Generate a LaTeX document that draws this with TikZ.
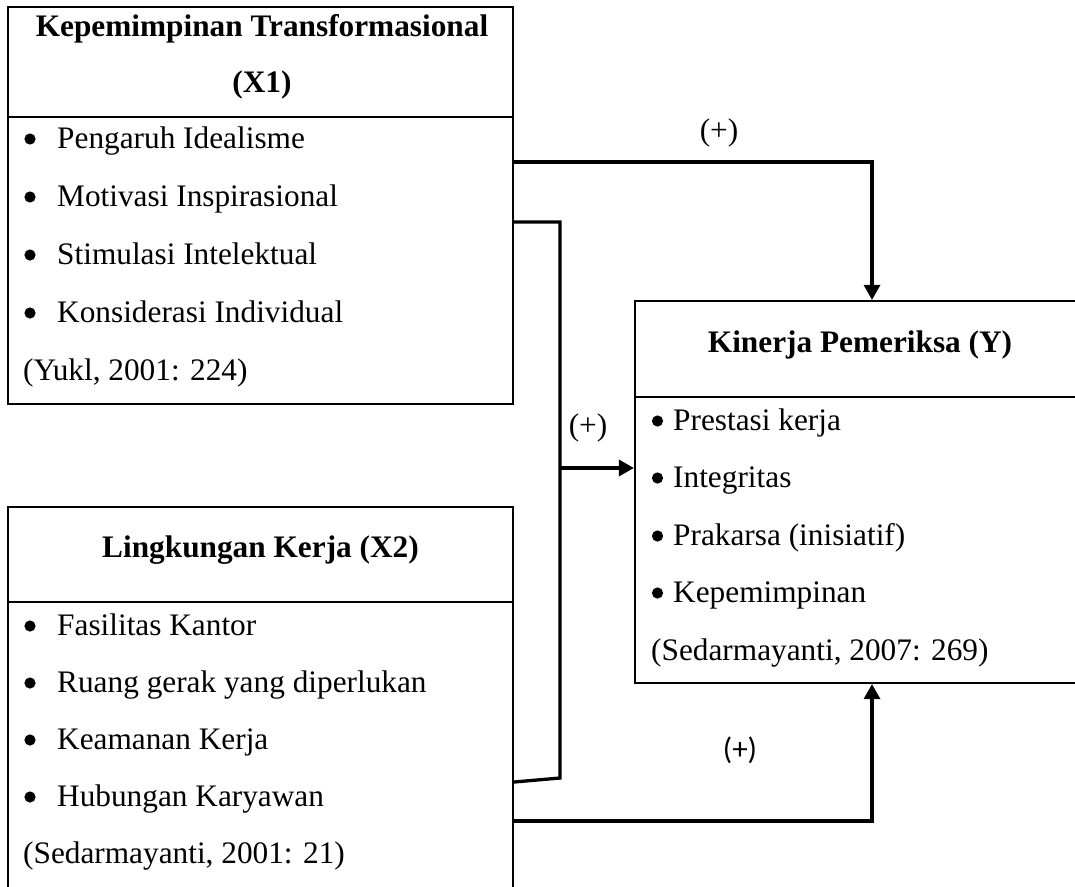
\documentclass[tikz,border=0pt]{standalone}
\usepackage{fontspec}
\setmainfont{Liberation Serif}
\newfontfamily\plussans{Carlito}
\usetikzlibrary{arrows.meta}
\begin{document}
\begin{tikzpicture}[x=1pt,y=-1pt,
  boxline/.style={line width=2.2pt},
  conn/.style={line width=3.3pt},
  arr/.style={conn,-{Triangle[length=15pt,width=16pt]}},
  txt/.style={inner sep=0pt,anchor=base west,font=\fontsize{31.3}{37}\selectfont},
  ttl/.style={inner sep=0pt,anchor=base,font=\fontsize{31.3}{37}\selectfont\bfseries},
  lbl/.style={inner sep=0pt,font=\fontsize{31.3}{37}\selectfont},
  lblsans/.style={inner sep=0pt,font=\fontsize{31}{36}\selectfont\plussans},
  bul/.style={fill=black}]
\useasboundingbox (0,0) rectangle (1075,886);
\clip (0,0) rectangle (1075,886);
% boxes
\node[boxline,draw,rectangle,inner sep=0pt,minimum width=505pt,minimum height=397pt] (X1) at (260.5,205.5) {};
\node[boxline,draw,rectangle,inner sep=0pt,minimum width=505pt,minimum height=400pt] (X2) at (260.5,707) {};
\node[boxline,draw,rectangle,inner sep=0pt,minimum width=450pt,minimum height=382pt] (Y) at (860,492) {};
\draw[boxline] (8,117) -- (513,117);
\draw[boxline] (8,602) -- (513,602);
\draw[boxline] (635,397) -- (1085,397);
% X1 text
\node[ttl] (x1t1) at (262,36) {Kepemimpinan Transformasional};
\node[ttl] (x1t2) at (262,92) {(X1)};
\node[txt] (x1a) at (57,148) {Pengaruh Idealisme};
\node[txt] (x1b) at (57,206) {Motivasi Inspirasional};
\node[txt] (x1c) at (57,264) {Stimulasi Intelektual};
\node[txt] (x1d) at (57,322) {Konsiderasi Individual};
\node[txt] (x1e) at (23,380) {(Yukl, 2001: 224)};
\foreach \yy in {148,206,264,322} \fill[bul] (30,\yy-9) circle (5.6);
% X2 text
\node[ttl] (x2t) at (260.5,557) {Lingkungan Kerja (X2)};
\node[txt] (x2a) at (57,635) {Fasilitas Kantor};
\node[txt] (x2b) at (57,692) {Ruang gerak yang diperlukan};
\node[txt] (x2c) at (57,749) {Keamanan Kerja};
\node[txt] (x2d) at (57,806) {Hubungan Karyawan};
\node[txt] (x2e) at (23,863) {(Sedarmayanti, 2001: 21)};
\foreach \yy in {635,692,749,806} \fill[bul] (30,\yy-9) circle (5.6);
% Y text
\node[ttl] (yt) at (860,352) {Kinerja Pemeriksa (Y)};
\node[txt] (ya) at (673,430) {Prestasi kerja};
\node[txt] (yb) at (673,487) {Integritas};
\node[txt] (yc) at (673,545) {Prakarsa (inisiatif)};
\node[txt] (yd) at (673,602) {Kepemimpinan};
\node[txt] (ye) at (651,660) {(Sedarmayanti, 2007: 269)};
\foreach \yy in {430,487,545,602} \fill[bul] (657.5,\yy-9) circle (5.6);
% connector coordinates
\coordinate (a1) at (X1.east |- 0,162);
\coordinate (a2) at (872,162);
\coordinate (a3) at (Y.north -| a2);
\coordinate (b1) at (X1.east |- 0,222);
\coordinate (b2) at (560,222);
\coordinate (b3) at (560,778);
\coordinate (b4) at (X2.east |- 0,782);
\coordinate (b5) at (560,468);
\coordinate (b6) at (Y.west |- b5);
\coordinate (c1) at (X2.east |- 0,821);
\coordinate (c2) at (872,821);
\coordinate (c3) at (Y.south -| c2);
\draw[arr] (a1) -- (a2) -- (a3);
\draw[conn,line join=miter] (b1) -- (b2) -- (b3) -- (b4);
\draw[arr] (b5) -- (b6);
\draw[arr] (c1) -- (c2) -- (c3);
% labels
\node[lbl] (l1) at (719,133) {(+)};
\node[lbl] (l2) at (588,428) {(+)};
\node[lblsans] (l3) at (740,750) {(+)};
\end{tikzpicture}
\end{document}
